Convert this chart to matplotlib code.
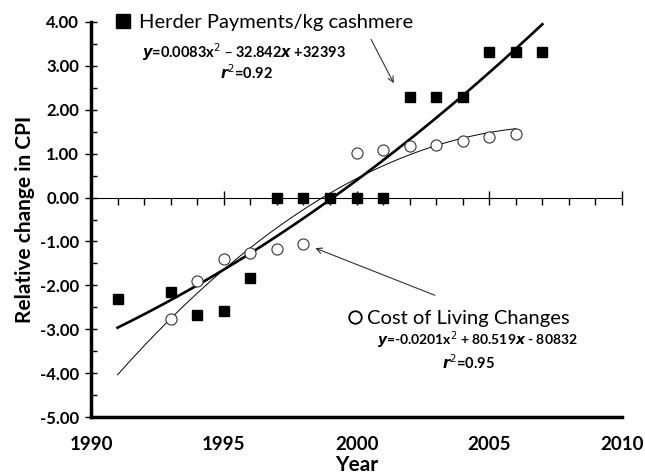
import numpy as np
import matplotlib
matplotlib.use("Agg")
import matplotlib.pyplot as plt
from matplotlib.ticker import MultipleLocator, FixedLocator, NullFormatter
from matplotlib.lines import Line2D

plt.rcParams['font.family'] = ['Lato', 'DejaVu Sans']

# Data
herder_years = [1991, 1993, 1994, 1995, 1996, 1997, 1998, 1999, 2000, 2001,
                2002, 2003, 2004, 2005, 2006, 2007]
herder_vals = [-2.30, -2.15, -2.68, -2.59, -1.84, 0.0, 0.0, 0.0, 0.0, 0.0,
               2.30, 2.30, 2.30, 3.31, 3.31, 3.31]
cost_years = [1993, 1994, 1995, 1996, 1997, 1998, 2000, 2001, 2002, 2003,
              2004, 2005, 2006]
cost_vals = [-2.77, -1.90, -1.39, -1.26, -1.18, -1.06, 1.01, 1.08, 1.17, 1.20,
             1.30, 1.38, 1.45]
herder_label = "Herder Payments/kg cashmere"
cost_label = "Cost of Living Changes"
herder_eq = r"$\boldsymbol{y}$=0.0083x$^2$ – 32.842$\boldsymbol{x}$ +32393"
herder_r2 = r"$\boldsymbol{r}^2$=0.92"
cost_eq = r"$\boldsymbol{y}$=-0.0201x$^2$ + 80.519$\boldsymbol{x}$ - 80832"
cost_r2 = r"$\boldsymbol{r}^2$=0.95"
herder_fit_range = (1991, 2007)
cost_fit_range = (1991, 2006)

fig = plt.figure(figsize=(6.45, 4.75), dpi=100)
ax = fig.add_axes([91/645, 1-417/475, (622-91)/645, (417-22)/475])
ax.set_xlim(1990, 2010)
ax.set_ylim(-5, 4)

# trend lines
hx = np.asarray(herder_years, float)
hy = np.asarray(herder_vals, float)
hp = np.polyfit(hx - 2000, hy, 2)
xs = np.linspace(*herder_fit_range, 200)
ax.plot(xs, np.polyval(hp, xs - 2000), color='black', lw=1.9, zorder=3)

cx = np.asarray(cost_years, float)
cy = np.asarray(cost_vals, float)
cp = np.polyfit(cx - 2000, cy, 2)
xs2 = np.linspace(*cost_fit_range, 200)
ax.plot(xs2, np.polyval(cp, xs2 - 2000), color='black', lw=0.7, zorder=3)

# markers
ax.plot(herder_years, herder_vals, ls='none', marker='s', ms=7.5, color='black',
        zorder=4)
ax.plot(cost_years, cost_vals, ls='none', marker='o', ms=8, mfc='white',
        mec='#333333', mew=0.8, zorder=4)

# axes styling
for s in ['top', 'right']:
    ax.spines[s].set_visible(False)
ax.spines['left'].set_linewidth(2.5)
ax.spines['bottom'].set_linewidth(2.5)
ax.set_xticks([1990, 1995, 2000, 2005, 2010])
ax.tick_params(axis='x', length=0, pad=14, labelsize=13.5)
ax.set_yticks(np.arange(-5, 4.01, 1))
ax.yaxis.set_minor_locator(MultipleLocator(0.5))
ax.yaxis.set_major_formatter(matplotlib.ticker.FuncFormatter(
    lambda v, p: f"{v:.2f}".replace('\u2212', '-')))
ax.tick_params(axis='y', which='major', direction='inout', length=9, width=1,
               labelsize=12, pad=4)
ax.tick_params(axis='y', which='minor', direction='in', length=4, width=1)
for lab in ax.get_xticklabels() + ax.get_yticklabels():
    lab.set_fontweight('bold')

# zero axis line
sec = ax.secondary_xaxis(5/9)
sec.spines['bottom'].set_linewidth(1.0)
sec.xaxis.set_major_locator(FixedLocator([1995, 2000, 2005, 2010]))
sec.xaxis.set_minor_locator(MultipleLocator(1))
sec.xaxis.set_major_formatter(NullFormatter())
sec.tick_params(which='major', direction='inout', length=10, width=1)
sec.tick_params(which='minor', direction='in', length=5, width=1)

ax.set_ylabel("Relative change in CPI", fontsize=15, fontweight='bold', labelpad=4)
ax.set_xlabel("Year", fontsize=15, fontweight='bold', labelpad=1)

# legends
h1 = Line2D([], [], ls='none', marker='s', ms=10, color='black')
leg1 = ax.legend([h1], [herder_label], loc='upper left', bbox_to_anchor=(0.043, 1.02),
                 frameon=False, fontsize=14.5, handletextpad=0.35, handlelength=0.9,
                 borderpad=0, borderaxespad=0)
ax.add_artist(leg1)
h2 = Line2D([], [], ls='none', marker='o', ms=9, mfc='white', mec='black', mew=1.3)
leg2 = ax.legend([h2], [cost_label], loc='center left', bbox_to_anchor=(0.478, 0.249),
                 frameon=False, fontsize=14.5, handletextpad=0.1, handlelength=1.0,
                 borderpad=0, borderaxespad=0)

# equations
ax.text(0.289, 0.924, herder_eq, transform=ax.transAxes, ha='center', va='center',
        fontsize=10.5, fontweight='bold')
ax.text(0.293, 0.871, herder_r2, transform=ax.transAxes, ha='center', va='center',
        fontsize=10.5, fontweight='bold')
ax.text(0.727, 0.195, cost_eq, transform=ax.transAxes, ha='center', va='center',
        fontsize=10, fontweight='bold')
ax.text(0.710, 0.137, cost_r2, transform=ax.transAxes, ha='center', va='center',
        fontsize=10.5, fontweight='bold')

# arrows
ax.annotate("", xy=(2001.45, 2.55), xytext=(2000.5, 3.66),
            arrowprops=dict(arrowstyle='->', color='#333333', lw=0.8))
ax.annotate("", xy=(1998.35, -1.13), xytext=(2003.05, -2.25),
            arrowprops=dict(arrowstyle='->', color='#333333', lw=0.8))

fig.savefig("out.png", dpi=100)
